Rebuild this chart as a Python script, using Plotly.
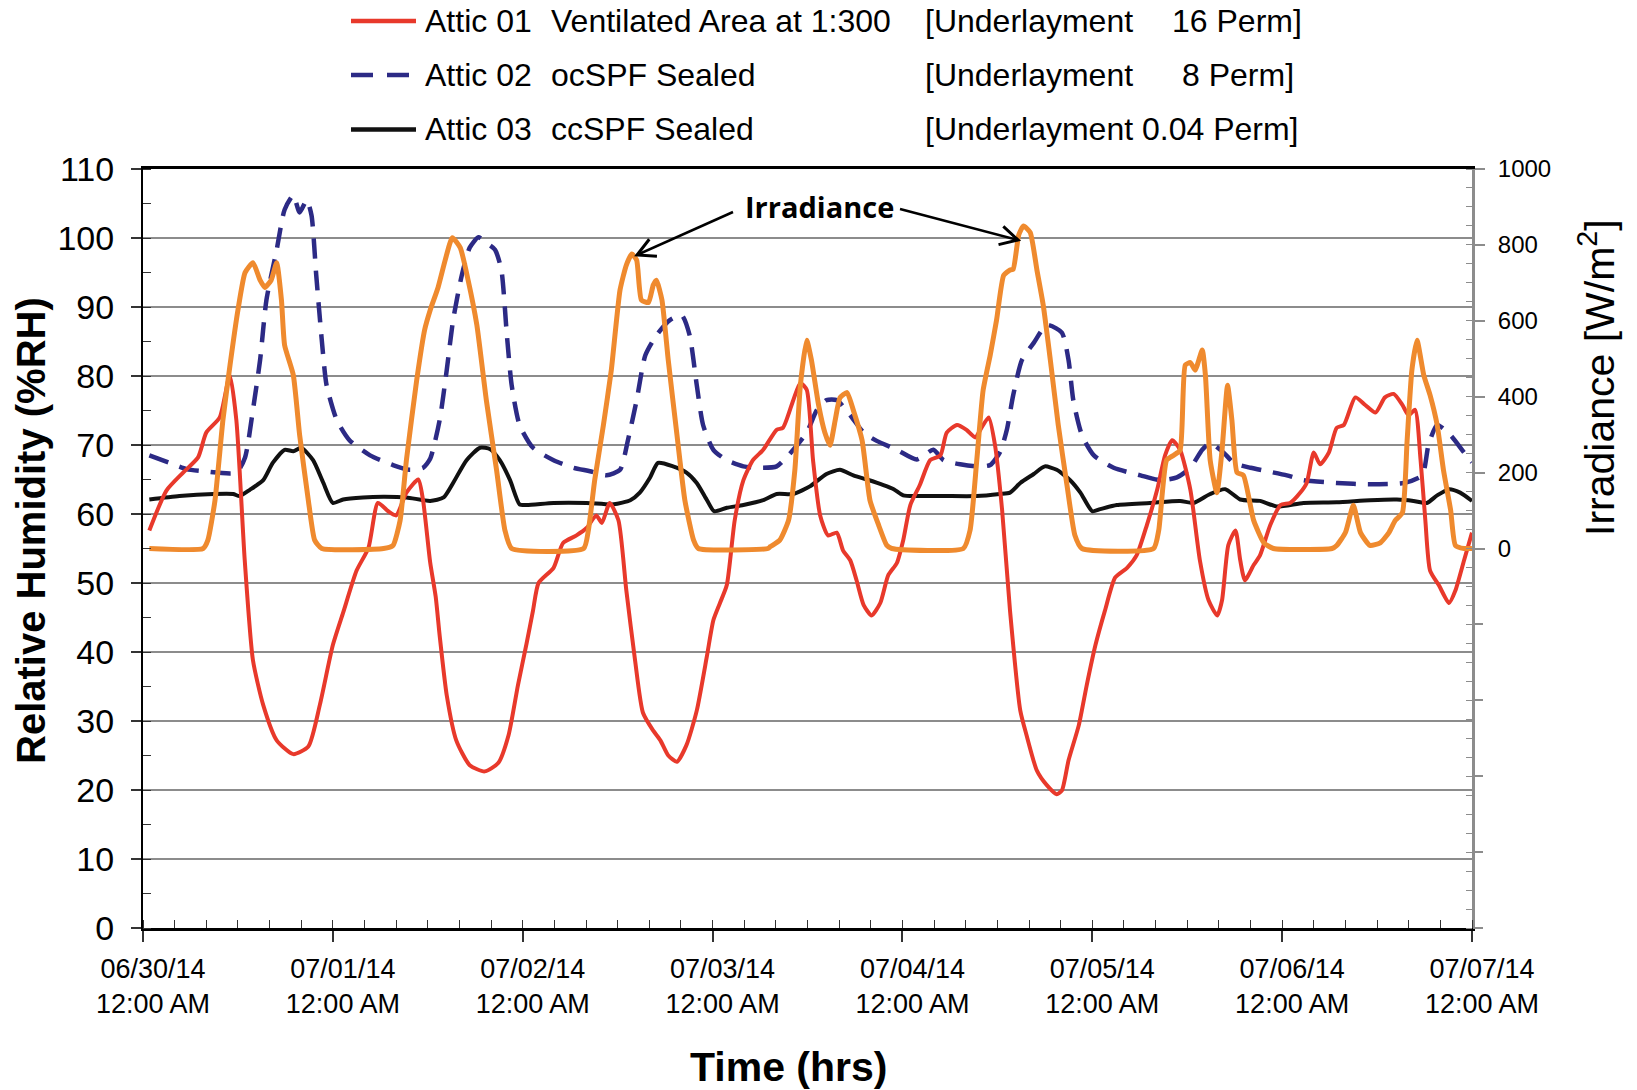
import math
import pandas as pd
import plotly.graph_objects as go

# ---- time origin: hours are counted from this instant ----
START = pd.Timestamp("2014-06-30 00:00")

# ---- Attic 01: ventilated attic, relative humidity (%RH) ----
attic01_hours = [0.8, 2.96, 5.07, 6.96, 8.0, 9.7, 10.97, 11.8, 12.86, 13.9, 15.2, 16.9, 19.0, 20.9,
                 22.35, 24.0, 25.3, 27.0, 28.5, 29.7, 31.0, 32.0, 33.3, 34.8, 35.4, 36.3, 37.0, 37.5,
                 38.4, 39.6, 41.3, 43.2, 44.9, 46.2, 47.4, 48.5, 49.3, 50.0, 51.9, 53.1, 54.8, 56.1,
                 57.3, 58.0, 59.0, 60.1, 61.1, 62.2, 63.2, 64.5, 65.4, 66.4, 67.5, 68.7, 70.0, 71.3,
                 72.1, 72.9, 73.8, 74.8, 75.9, 77.1, 78.4, 80.1, 80.9, 82.2, 83.1, 83.9, 84.7, 85.6,
                 86.6, 87.7, 88.5, 89.4, 90.2, 91.1, 92.1, 93.2, 94.2, 95.3, 96.1, 97.0, 98.2, 99.5,
                 100.8, 101.6, 102.9, 104.1, 105.2, 106.0, 106.9, 107.7, 108.6, 109.6, 110.9, 111.7,
                 113.0, 114.25, 115.5, 116.15, 117.0, 118.3, 119.3, 120.4, 121.6, 122.9, 124.4, 125.6,
                 126.9, 128.2, 129.2, 130.1, 131.1, 132.4, 133.6, 134.7, 135.8, 136.4, 137.2, 138.1,
                 138.7, 139.3, 140.4, 141.2, 142.5, 143.8, 145.0, 146.3, 147.1, 148.0, 148.8, 149.9,
                 150.9, 151.8, 153.25, 154.5, 155.8, 157.0, 158.1, 159.2, 160.0, 160.8, 161.5, 162.1,
                 162.7, 163.8, 165.1, 165.9, 167.0, 168.0]
attic01_rh = [57.6, 63.4, 66.0, 68.2, 71.8, 74.0, 80.1, 73.6, 53.3, 38.8, 32.3, 27.2, 25.2, 26.3,
              32.3, 41.0, 45.7, 51.8, 55.1, 61.6, 60.4, 59.8, 63.1, 65.0, 62.0, 53.0, 48.0, 42.4,
              33.7, 27.2, 23.6, 22.7, 23.9, 27.9, 35.2, 41.3, 46.0, 50.0, 52.2, 55.8, 56.9, 58.0,
              59.8, 58.7, 61.6, 59.1, 48.9, 38.8, 31.2, 28.6, 27.2, 25.0, 24.1, 26.5, 31.5, 39.5,
              44.6, 47.0, 49.7, 59.1, 64.9, 67.8, 69.3, 72.2, 72.5, 76.5, 79.0, 78.0, 67.8, 59.8,
              56.9, 57.3, 54.7, 53.3, 50.4, 46.8, 45.3, 47.1, 51.1, 52.9, 56.2, 61.3, 64.2, 67.8,
              68.5, 71.8, 72.9, 72.2, 71.1, 72.5, 74.0, 70.0, 60.6, 46.0, 31.5, 27.9,
              22.8, 20.7, 19.4, 19.9, 24.3, 29.4, 35.2, 41.0, 46.0, 50.8, 52.2, 54.0,
              58.4, 63.5, 68.5, 70.7, 69.3, 63.5, 53.3, 47.5, 45.3, 47.5, 55.5, 57.6,
              53.3, 50.4, 52.6, 54.0, 58.4, 61.3, 61.6, 63.1, 64.5, 68.9, 67.2, 68.9,
              72.5, 72.9, 76.9, 75.8, 74.7, 76.9, 77.4, 75.8, 74.3, 75.1, 67.8, 59.1,
              51.8, 49.7, 47.1, 48.9, 53.3, 57.3]

# ---- Attic 02: open-cell SPF sealed attic (%RH) ----
attic02_hours = [0.8, 3.4, 5.5, 7.6, 11.8, 12.9, 13.9, 14.8, 15.6, 16.9, 17.9, 19.0, 19.8, 20.7, 21.3,
                 21.9, 22.6, 23.2, 24.5, 26.1, 28.7, 31.6, 33.7, 35.4, 36.3, 37.5, 38.4, 39.2, 40.3,
                 41.3, 42.4, 43.4, 44.5, 45.3, 46.0, 46.6, 47.6, 49.3, 51.9, 54.4, 56.5, 58.6, 60.3,
                 61.3, 62.4, 63.5, 64.9, 66.6, 68.1, 69.1, 70.0, 70.8, 72.1, 73.8, 75.9, 78.0, 80.1,
                 82.2, 83.9, 85.2, 86.4, 87.7, 89.4, 91.1, 92.75, 95.3, 97.8, 99.9, 101.2, 103.3,
                 105.4, 107.1, 108.35, 109.2, 110.0, 111.1, 112.6, 114.25, 116.15, 117.0, 117.6,
                 118.7, 120.2, 122.7, 126.1, 128.6, 130.7, 132.4, 133.9, 134.9, 136.6, 137.9, 140.0,
                 142.1, 144.6, 146.7, 150.9, 155.1, 159.4, 161.7, 162.5, 163.6, 165.3, 167.0, 168.0]
attic02_rh = [68.5, 67.4, 66.5, 66.2, 66.0, 68.2, 75.1, 82.3, 91.0, 98.3, 104.1, 106.2, 103.7, 105.5, 103.3,
              94.6, 85.2, 78.7, 73.6, 70.7, 68.5, 67.1, 66.4, 66.7, 68.0, 73.6, 80.9, 88.1, 94.6,
              98.6, 100.1, 99.3, 98.3, 95.4, 85.9, 78.7, 72.9, 69.6, 67.8, 66.7, 66.2, 65.6, 66.4,
              70.7, 76.5, 83.0, 85.9, 88.1, 88.8, 85.9, 78.7, 72.9, 69.3, 67.8, 66.9, 66.7, 66.9,
              69.3, 71.8, 75.1, 76.5, 76.5, 74.3, 71.8, 70.6, 69.3, 67.9, 69.3, 67.8, 67.2,
              66.9, 67.1, 69.0, 72.2, 77.2, 82.3, 84.8, 87.4, 86.3, 82.3, 76.5,
              71.4, 68.5, 66.7, 65.6, 64.9, 65.3, 66.7, 69.3, 70.3, 68.9, 67.4, 66.7,
              66.2, 65.6, 64.9, 64.5, 64.3, 64.5, 65.6, 70.0, 72.9, 71.4, 68.9, 67.5]

# ---- Attic 03: closed-cell SPF sealed attic (%RH) ----
attic03_hours = [0.8, 4.6, 8.9, 11.4, 12.2, 13.5, 15.2, 16.4, 17.9, 19.0, 20.0, 21.5, 22.8, 24.0, 25.3,
                 27.8, 30.4, 33.3, 36.3, 38.0, 39.2, 40.9, 42.6, 43.9, 45.1, 46.4, 47.6, 48.5, 51.9,
                 56.1, 59.5, 61.6, 62.8, 64.1, 65.1, 67.0, 68.7, 70.0, 71.3, 72.2, 73.8, 75.9, 78.4,
                 80.1, 82.2, 84.3, 86.4, 88.1, 89.8, 91.5, 93.6, 94.9, 96.1, 97.8, 101.2, 105.4,
                 108.3, 109.6, 110.9, 112.6, 114.0, 115.5, 117.2, 118.5, 120.0, 121.0, 123.1, 127.3,
                 131.1, 132.8, 134.9, 136.8, 138.7, 141.2, 143.3, 146.7, 150.9, 155.1, 158.5, 160.6,
                 162.3, 163.6, 165.1, 166.5, 168.0]
attic03_rh = [62.1, 62.6, 62.9, 62.9, 62.6, 63.5, 64.9, 67.4, 69.3, 69.1, 69.6, 67.8, 64.5, 61.6, 62.1,
              62.4, 62.5, 62.4, 61.9, 62.4, 64.5, 67.8, 69.6, 69.4, 67.8, 64.9, 61.4, 61.3, 61.6,
              61.6, 61.4, 62.0, 63.1, 65.3, 67.4, 66.9, 66.0, 64.5, 62.0, 60.4, 60.9, 61.3, 62.0,
              62.9, 62.9, 64.0, 65.8, 66.4, 65.6, 65.0, 64.2, 63.6, 62.7, 62.6, 62.6, 62.6,
              62.9, 63.1, 64.5, 65.8, 66.9, 66.4, 64.9, 63.1, 60.4, 60.7, 61.3, 61.6,
              61.9, 61.6, 62.9, 63.6, 62.1, 61.9, 61.1, 61.6, 61.7, 62.0, 62.1, 61.9,
              61.6, 62.7, 63.6, 63.1, 61.9]

# ---- Solar irradiance (W/m2), right-hand axis ----
irr_hours = [0.8, 7.6, 8.2, 9.1, 10.1, 11.0, 12.0, 12.9, 13.9, 14.8, 15.4, 16.2, 16.9, 17.5, 17.9,
             19.0, 19.8, 20.9, 21.7, 22.6, 30.4, 31.6, 32.5, 33.3, 34.6, 35.6, 36.3, 37.3, 38.2,
             39.1, 40.1, 41.1, 42.2, 43.4, 44.7, 45.75, 46.6, 55.7, 56.3, 57.1, 58.2, 59.2, 60.3,
             61.1, 61.8, 62.4, 63.0, 63.9, 64.5, 64.9, 65.6, 66.4, 67.5, 68.5, 69.6, 70.2, 79.0,
             79.3, 80.5, 81.6, 82.4, 83.1, 83.9, 84.5, 85.4, 86.2, 86.85, 87.5, 88.1, 89.0, 89.8,
             90.9, 91.9, 93.0, 94.0, 94.65, 103.7, 104.55, 105.4, 106.2, 107.1, 107.9, 108.8,
             109.6, 110.0, 110.7, 111.3, 112.15, 113.0, 113.8, 114.7, 115.7, 116.8, 117.8, 118.7,
             127.75, 128.4, 129.4, 130.3, 131.1, 131.75, 132.4, 133.0, 133.9, 134.3, 134.9, 135.75,
             136.4, 137.1, 137.65, 138.3, 139.1, 140.4, 141.7, 142.9, 150.3, 150.9, 152.0, 153.0,
             153.9, 155.1, 156.4, 157.5, 158.3, 159.2, 159.8, 160.4, 161.05, 161.9, 162.7, 163.6,
             164.4, 165.3, 165.9, 167.0, 168.0]
irr_wm2 = [0, 0, 22, 127, 338, 483, 628, 727, 753, 707, 688, 707, 753, 655, 536,
           457, 299, 127, 22, 0, 0, 8, 74, 233, 444, 576, 628, 688, 760,
           819, 793, 707, 589, 391, 206, 48, 0, 0, 48, 180, 325, 470, 681,
           747, 776, 760, 655, 648, 694, 707, 655, 496, 299, 127, 22, 0, 0,
           5, 22, 74, 206, 430, 549, 496, 378, 305, 272, 338, 397, 411, 364,
           285, 127, 61, 9, 0, 0, 48, 233, 417, 510, 602, 720,
           734, 736, 826, 850, 833, 734, 641, 496, 325, 167, 35, 0,
           0, 48, 233, 246, 259, 483, 490, 470, 523, 457, 233, 147,
           259, 430, 338, 200, 193, 74, 15, 0, 0, 8, 42, 114,
           42, 8, 15, 42, 74, 94, 285, 470, 549, 457, 404, 325,
           206, 101, 8, 0, 0]

# ---- axis ticks ----
day_ticks = pd.date_range(START, periods=8, freq="D")
day_labels = [d.strftime("%m/%d/%y") + "<br>" + d.strftime("%I:%M %p") for d in day_ticks]
rh_ticks = list(range(0, 111, 10))
irr_ticks = list(range(0, 1001, 200))          # labelled part of the right axis
irr_lower_ticks = list(range(-1000, 0, 200))   # unlabelled marks below zero

RED = "#E8392B"
BLUE = "#2C2A85"
BLACK = "#111111"
ORANGE = "#EF8A2E"
GRID = "#8C8C8C"
FONT = "Liberation Sans, Arial, sans-serif"

W, H = 1637, 1090
ML, MR, MT, MB = 143, 165, 169, 162
PW, PH = W - ML - MR, H - MT - MB
IRR_RANGE = [-1000, 1000]


def px(xpix):
    return (xpix - ML) / PW


def py(ypix):
    return (H - MB - ypix) / PH


def to_time(hours):
    return START + pd.to_timedelta(hours, unit="h")


fig = go.Figure()
fig.add_trace(go.Scatter(
    x=to_time(attic02_hours), y=attic02_rh, mode="lines", name="Attic 02",
    line=dict(color=BLUE, width=4.5, dash="20px,12px", shape="spline", smoothing=0.6)))
fig.add_trace(go.Scatter(
    x=to_time(attic03_hours), y=attic03_rh, mode="lines", name="Attic 03",
    line=dict(color=BLACK, width=4, shape="spline", smoothing=0.6)))
fig.add_trace(go.Scatter(
    x=to_time(attic01_hours), y=attic01_rh, mode="lines", name="Attic 01",
    line=dict(color=RED, width=4, shape="spline", smoothing=0.6)))
fig.add_trace(go.Scatter(
    x=to_time(irr_hours), y=irr_wm2, mode="lines", name="Irradiance", yaxis="y2",
    line=dict(color=ORANGE, width=5, shape="spline", smoothing=0.5)))
# empty carrier so the lower tick-mark axis is laid out
fig.add_trace(go.Scatter(x=[], y=[], yaxis="y3", mode="lines", hoverinfo="skip"))

right_common = dict(
    overlaying="y", side="right", range=IRR_RANGE, tickmode="array",
    ticks="outside", ticklen=10, tickwidth=1.5, tickcolor=GRID,
    showgrid=False, zeroline=False, automargin=False,
)

fig.update_layout(
    width=W, height=H,
    margin=dict(l=ML, r=MR, t=MT, b=MB),
    paper_bgcolor="white", plot_bgcolor="white",
    showlegend=False,
    font=dict(family=FONT, color="black"),
    xaxis=dict(
        range=[START, START + pd.Timedelta(days=7)],
        tickmode="array", tickvals=day_ticks, ticktext=day_labels,
        tickfont=dict(size=27), ticks="outside", ticklen=11, tickwidth=1.5, tickcolor="#333",
        ticklabelshift=10, ticklabelstandoff=4,
        minor=dict(dtick=4 * 3600 * 1000, ticks="inside", ticklen=8, tickwidth=1.2,
                   tickcolor="#333", showgrid=False),
        showgrid=False, zeroline=False,
        showline=True, linecolor="black", linewidth=2.5, mirror=True,
        automargin=False,
    ),
    yaxis=dict(
        range=[0, 110], tickmode="array", tickvals=rh_ticks,
        tickfont=dict(size=34), ticks="outside", ticklen=10, tickwidth=1.5, tickcolor="#333",
        ticklabelstandoff=10,
        minor=dict(dtick=5, tick0=0, ticks="inside", ticklen=8, tickwidth=1.2,
                   tickcolor="#333", showgrid=False),
        showgrid=True, gridcolor=GRID, gridwidth=1.5, zeroline=False,
        showline=True, linecolor="black", linewidth=2,
        automargin=False,
    ),
    yaxis2=dict(
        **right_common,
        tickvals=irr_ticks,
        tickfont=dict(size=24), ticklabelstandoff=8,
        minor=dict(dtick=50, tick0=0, ticks="inside", ticklen=6, tickwidth=1.2,
                   tickcolor=GRID, showgrid=False),
        showline=True, linecolor=GRID, linewidth=3,
    ),
    yaxis3=dict(
        **right_common,
        tickvals=irr_lower_ticks, showticklabels=False, showline=False,
    ),
)

annotations = []


def text(xpix, ypix, s, size, xanchor="center", angle=0, family=FONT):
    annotations.append(dict(
        x=px(xpix), y=py(ypix), xref="paper", yref="paper", text=s, showarrow=False,
        xanchor=xanchor, yanchor="middle", textangle=angle,
        font=dict(size=size, family=family, color="black")))


# axis titles
text(31, 531, "<b>Relative Humidity (%RH)</b>", 40, angle=-90)
text(1597, 378, "Irradiance [W/m<sup>2</sup>]", 41, angle=-90)
text(788, 1067, "<b>Time (hrs)</b>", 41)

# legend rows
legend_rows = [
    ("Attic 01", "Ventilated Area at 1:300", "[Underlayment", "16 Perm]", 1304),
    ("Attic 02", "ocSPF Sealed", "[Underlayment", "8 Perm]", 1296),
    ("Attic 03", "ccSPF Sealed", "[Underlayment 0.04 Perm]", "", 0),
]
row_y = [21, 75, 129.5]
shapes = []
for (name, desc, under, perm, perm_right), ty in zip(legend_rows, row_y):
    text(423, ty, name, 32, xanchor="left")
    text(549, ty, desc, 32, xanchor="left")
    text(923, ty, under, 32, xanchor="left")
    if perm:
        text(perm_right, ty, perm, 32, xanchor="right")

# legend line samples
sample_styles = [dict(color=RED, width=4.5),
                 dict(color=BLUE, width=4.5, dash="22px,14px"),
                 dict(color=BLACK, width=4.5)]
for style, ly in zip(sample_styles, row_y):
    shapes.append(dict(type="line", xref="paper", yref="paper", x0=px(351), x1=px(416),
                       y0=py(ly), y1=py(ly), line=style))

# "Irradiance" callout with two open-headed arrows
text(819, 206, "<b>Irradiance</b>", 29, family="Open Sans, Liberation Sans, sans-serif")
arrows = [((733, 212), (637, 255)), ((900, 209), (1018, 240))]
head_len, head_ang = 20, math.radians(28)
for (tx, ty), (hx, hy) in arrows:
    shapes.append(dict(type="line", xref="paper", yref="paper",
                       x0=px(tx), y0=py(ty), x1=px(hx), y1=py(hy),
                       line=dict(color="black", width=2.5)))
    ang = math.atan2(ty - hy, tx - hx)
    arms = [(hx + head_len * math.cos(ang + s * head_ang),
             hy + head_len * math.sin(ang + s * head_ang)) for s in (1, -1)]
    path = "M {:.5f},{:.5f} L {:.5f},{:.5f} L {:.5f},{:.5f}".format(
        px(arms[0][0]), py(arms[0][1]), px(hx), py(hy), px(arms[1][0]), py(arms[1][1]))
    shapes.append(dict(type="path", xref="paper", yref="paper", path=path,
                       line=dict(color="black", width=3)))

fig.update_layout(annotations=annotations, shapes=shapes)

fig.write_html("out.html")
